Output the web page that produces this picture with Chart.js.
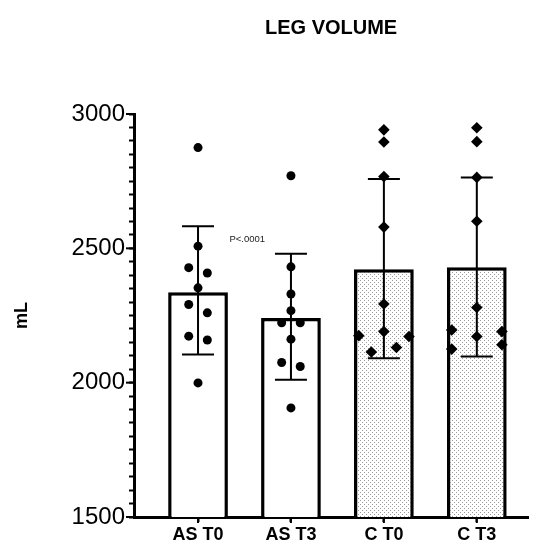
<!DOCTYPE html>
<html>
<head>
<meta charset="utf-8">
<script src="https://cdn.jsdelivr.net/npm/chart.js@4.4.1/dist/chart.umd.min.js"></script>
<style>
  html, body { margin: 0; padding: 0; background: #fff; }
</style>
</head>
<body>
<canvas id="volumenChart" width="534" height="545"></canvas>
<script>
// Datos
const categorias = ['AS T0', 'AS T3', 'C T0', 'C T3'];
const medias = [2337, 2241, 2422, 2430];
const errorInferior = [2105, 2011, 2091, 2097];
const errorSuperior = [2582, 2480, 2758, 2764];

const puntosAST0 = [2875, 2508, 2428, 2408, 2353, 2291, 2260, 2173, 2159, 1999];
const jitterAST0 = [0, 0, -0.1, 0.1, 0, -0.1, 0.1, -0.1, 0.1, 0];
const puntosAST3 = [2770, 2431, 2330, 2268, 2223, 2223, 2162, 2075, 2060, 1906];
const jitterAST3 = [0, 0, 0, 0, -0.1, 0.1, 0, -0.1, 0.1, 0];
const puntosCT0 = [2941, 2896, 2767, 2579, 2293, 2190, 2175, 2172, 2131, 2114];
const jitterCT0 = [0, 0, 0, 0, 0, 0, -0.27, 0.27, 0.135, -0.135];
const puntosCT3 = [2949, 2897, 2764, 2601, 2280, 2196, 2190, 2172, 2141, 2125];
const jitterCT3 = [0, 0, 0, 0, 0, -0.27, 0.27, 0, 0.27, -0.27];

const marcasY = [1500, 2000, 2500, 3000];
const textoP = 'P<.0001';

Chart.defaults.font.family = "'Liberation Sans', Arial, sans-serif";
Chart.defaults.color = '#000';

const ctx = document.getElementById('volumenChart').getContext('2d');

// Trama de puntos grises para las barras C
function crearTrama() {
    const c = document.createElement('canvas');
    c.width = 4; c.height = 4;
    const g = c.getContext('2d');
    g.fillStyle = '#fff';
    g.fillRect(0, 0, 4, 4);
    g.fillStyle = '#9a9a9a';
    g.fillRect(0, 0, 1, 1);
    g.fillRect(2, 2, 1, 1);
    return ctx.createPattern(c, 'repeat');
}
const trama = crearTrama();

function puntos(valores, jitter, idx) {
    return valores.map((v, i) => ({ x: idx + jitter[i], y: v }));
}

// Barras de error (media +- DE)
const barrasError = {
    id: 'barrasError',
    afterDatasetDraw(chart, args) {
        if (args.index !== 0) return;
        const { ctx, scales: { x, y } } = chart;
        ctx.save();
        ctx.strokeStyle = '#000';
        ctx.lineWidth = 2;
        categorias.forEach((c, i) => {
            const px = x.getPixelForValue(i);
            const arriba = y.getPixelForValue(errorSuperior[i]);
            const abajo = y.getPixelForValue(errorInferior[i]);
            ctx.beginPath();
            ctx.moveTo(px, arriba); ctx.lineTo(px, abajo);
            ctx.moveTo(px - 16, arriba); ctx.lineTo(px + 16, arriba);
            ctx.moveTo(px - 16, abajo); ctx.lineTo(px + 16, abajo);
            ctx.stroke();
        });
        ctx.restore();
    }
};

// Marcas mayores del eje Y, marcas del eje X y texto del valor P
const extras = {
    id: 'extras',
    afterDraw(chart) {
        const { ctx, chartArea, scales: { x, y } } = chart;
        ctx.save();
        ctx.strokeStyle = '#000';
        ctx.lineWidth = 2;
        marcasY.forEach(v => {
            const py = y.getPixelForValue(v);
            ctx.beginPath();
            ctx.moveTo(chartArea.left - 8, py);
            ctx.lineTo(chartArea.left, py);
            ctx.stroke();
        });
        categorias.forEach((c, i) => {
            const px = x.getPixelForValue(i);
            ctx.beginPath();
            ctx.moveTo(px, chartArea.bottom);
            ctx.lineTo(px, chartArea.bottom + 6);
            ctx.stroke();
        });
        ctx.fillStyle = '#222';
        ctx.font = "9.5px 'Liberation Sans', Arial, sans-serif";
        ctx.textAlign = 'center';
        ctx.textBaseline = 'middle';
        ctx.fillText(textoP, x.getPixelForValue(0.53), y.getPixelForValue(2535));
        ctx.restore();
    }
};

window.myChart = new Chart(ctx, {
    type: 'bar',
    data: {
        datasets: [
            {
                type: 'bar',
                data: medias.map((m, i) => ({ x: i, y: m })),
                backgroundColor: ['#fff', '#fff', trama, trama],
                borderColor: '#000',
                borderWidth: 3.5,
                barPercentage: 0.643,
                categoryPercentage: 1,
                order: 2
            },
            {
                type: 'scatter',
                data: puntos(puntosAST0, jitterAST0, 0),
                pointStyle: 'circle', pointRadius: 4.5,
                backgroundColor: '#000', borderColor: '#000', borderWidth: 0,
                order: 1
            },
            {
                type: 'scatter',
                data: puntos(puntosAST3, jitterAST3, 1),
                pointStyle: 'circle', pointRadius: 4.5,
                backgroundColor: '#000', borderColor: '#000', borderWidth: 0,
                order: 1
            },
            {
                type: 'scatter',
                data: puntos(puntosCT0, jitterCT0, 2),
                pointStyle: 'rectRot', pointRadius: 5.8,
                backgroundColor: '#000', borderColor: '#000', borderWidth: 0,
                order: 1
            },
            {
                type: 'scatter',
                data: puntos(puntosCT3, jitterCT3, 3),
                pointStyle: 'rectRot', pointRadius: 5.8,
                backgroundColor: '#000', borderColor: '#000', borderWidth: 0,
                order: 1
            }
        ]
    },
    options: {
        responsive: false,
        animation: false,
        layout: { padding: { left: 0, right: 4, top: 0, bottom: 0 } },
        plugins: {
            legend: { display: false },
            tooltip: { enabled: false },
            title: {
                display: true,
                text: 'LEG VOLUME',
                fullSize: false,
                font: { size: 20, weight: 'bold' },
                padding: { top: 16, bottom: 74 }
            }
        },
        scales: {
            x: {
                type: 'linear',
                offset: false,
                min: -0.689,
                max: 3.553,
                afterBuildTicks: s => { s.ticks = categorias.map((c, i) => ({ value: i })); },
                afterFit: s => { s.height = 28; },
                ticks: {
                    callback: v => categorias[v] ?? '',
                    font: { size: 18, weight: 'bold' },
                    padding: 2,
                    maxRotation: 0,
                    autoSkip: false
                },
                grid: { offset: false, drawOnChartArea: false, tickLength: 5, tickColor: '#000', tickWidth: 2 },
                border: { color: '#000', width: 3 }
            },
            y: {
                min: 1500,
                max: 3000,
                afterFit: s => { s.width = 134; },
                ticks: {
                    stepSize: 50,
                    autoSkip: false,
                    callback: v => (v % 500 === 0 ? v : ''),
                    font: { size: 24 },
                    padding: 4
                },
                grid: { drawOnChartArea: false, tickLength: 5, tickColor: '#000', tickWidth: 2 },
                border: { color: '#000', width: 3 },
                title: {
                    display: true,
                    text: 'mL',
                    font: { size: 18, weight: 'bold' },
                    padding: { top: 11, bottom: 0 }
                }
            }
        }
    },
    plugins: [barrasError, extras]
});
</script>
</body>
</html>
